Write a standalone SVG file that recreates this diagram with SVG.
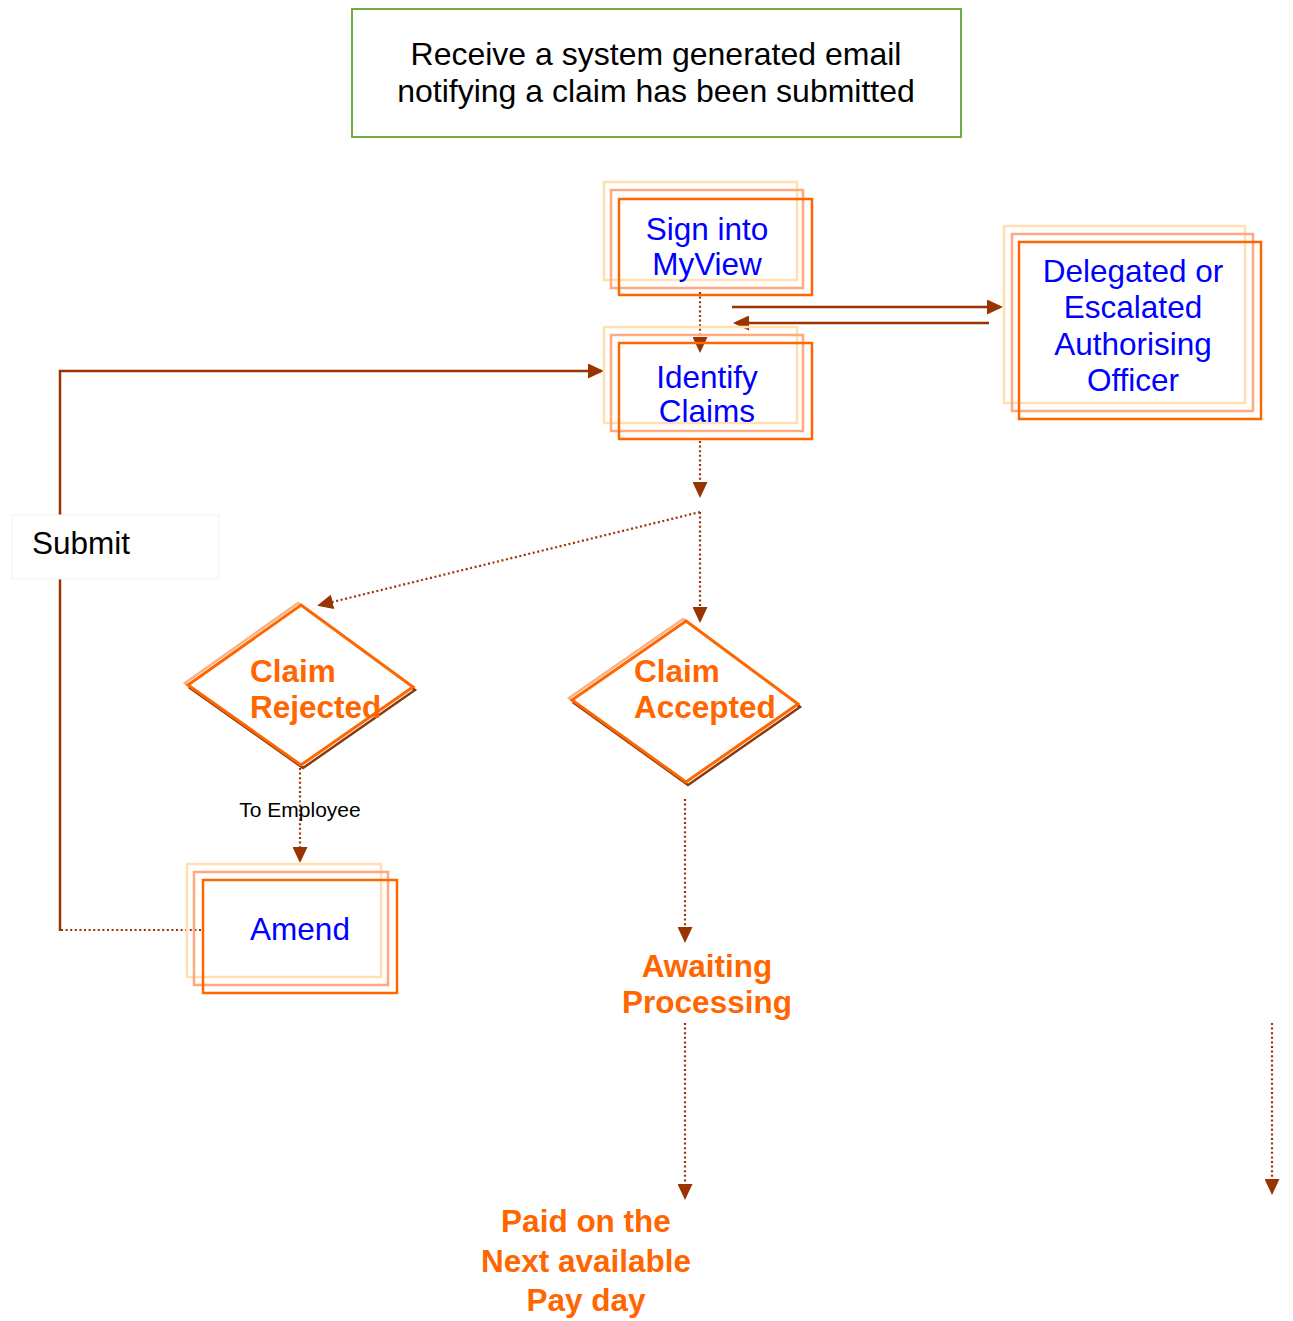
<svg xmlns="http://www.w3.org/2000/svg" width="1293" height="1321" viewBox="0 0 1293 1321">
<style>
.r1{fill:none;stroke:#FFE0B0;stroke-width:2.5}
.r2{fill:none;stroke:#FFA980;stroke-width:2.5}
.r3{fill:none;stroke:#FF6600;stroke-width:2.5}
.blue{font-family:"Liberation Sans",Arial,sans-serif;font-size:31.5px;fill:#0000FF;text-anchor:middle}
.org{font-family:"Liberation Sans",Arial,sans-serif;font-size:31.5px;font-weight:bold;fill:#FF6600}
.blk{font-family:"Liberation Sans",Arial,sans-serif;fill:#000}
.dot{fill:none;stroke:#993300;stroke-width:2.2;stroke-dasharray:2 2.6}
.sol{fill:none;stroke:#993300;stroke-width:2.5}
.dlight{fill:none;stroke:#FFB080;stroke-width:2.5}
.ddark{fill:none;stroke:#8B3A0E;stroke-width:2.5}
.dmain{fill:#fff;stroke:#FF6600;stroke-width:3}
</style>
<defs>
<marker id="ah" viewBox="0 0 16 15" markerWidth="16" markerHeight="15" refX="13" refY="7.5" orient="auto" markerUnits="userSpaceOnUse">
<path d="M0,0 L16,7.5 L0,15 z" fill="#993300"/>
</marker>
</defs>
<rect width="1293" height="1321" fill="#fff"/>

<g id="connectors">
<line class="dot" x1="700" y1="292" x2="700" y2="350" marker-end="url(#ah)"/>
<line class="sol" x1="732" y1="307" x2="1000" y2="307" marker-end="url(#ah)"/>
<line class="sol" x1="989" y1="323" x2="736" y2="323" marker-end="url(#ah)"/>
<line class="dot" x1="700" y1="441" x2="700" y2="495" marker-end="url(#ah)"/>
<line class="dot" x1="700" y1="512" x2="320" y2="605" marker-end="url(#ah)"/>
<line class="dot" x1="700" y1="512" x2="700" y2="620" marker-end="url(#ah)"/>
<polyline class="sol" points="60,515 60,371 601,371" marker-end="url(#ah)"/>
<line class="sol" x1="60" y1="579" x2="60" y2="931"/>
<line class="dot" x1="61" y1="930" x2="204" y2="930"/>
<line class="dot" x1="300" y1="768" x2="300" y2="860" marker-end="url(#ah)"/>
<line class="dot" x1="685" y1="799" x2="685" y2="940" marker-end="url(#ah)"/>
<line class="dot" x1="685" y1="1023" x2="685" y2="1197" marker-end="url(#ah)"/>
<line class="dot" x1="1272" y1="1023" x2="1272" y2="1192" marker-end="url(#ah)"/>
</g>

<g id="email">
<rect x="352" y="9" width="609" height="128" fill="#fff" stroke="#70AD47" stroke-width="2"/>
<text class="blk" x="656" y="65" font-size="32" text-anchor="middle">Receive a system generated email</text>
<text class="blk" x="656" y="102" font-size="32" text-anchor="middle">notifying a claim has been submitted</text>
</g>

<g id="signin">
<rect class="r1" x="604" y="182" width="193" height="98"/>
<rect class="r2" x="611" y="190" width="192" height="98"/>
<rect class="r3" x="619" y="199" width="193" height="96"/>
<text class="blue" x="707" y="240">Sign into</text>
<text class="blue" x="707" y="275">MyView</text>
</g>

<g id="identify">
<rect class="r1" x="604" y="327" width="193" height="96"/>
<rect class="r2" x="611" y="335" width="192" height="96"/>
<rect class="r3" x="619" y="343" width="193" height="96"/>
<text class="blue" x="707" y="388">Identify</text>
<text class="blue" x="707" y="422">Claims</text>
</g>

<g id="delegated">
<rect class="r1" x="1004" y="226" width="241" height="177"/>
<rect class="r2" x="1012" y="234" width="241" height="177"/>
<rect class="r3" x="1019" y="242" width="242" height="177"/>
<text class="blue" x="1133" y="282">Delegated or</text>
<text class="blue" x="1133" y="318">Escalated</text>
<text class="blue" x="1133" y="355">Authorising</text>
<text class="blue" x="1133" y="391">Officer</text>
</g>

<g id="submit">
<rect x="12" y="515" width="207" height="64" fill="#fff" stroke="#F2F2F2" stroke-width="1"/>
<text class="blk" x="32" y="554" font-size="31.5">Submit</text>
</g>

<g id="rejected">
<polygon class="dlight" points="301,605 413,687 301,765 188,685" transform="translate(-3,-2)"/>
<polygon class="ddark" points="301,605 413,687 301,765 188,685" transform="translate(2,3)"/>
<polygon class="dmain" points="301,605 413,687 301,765 188,685"/>
<text class="org" x="250" y="682">Claim</text>
<text class="org" x="250" y="718">Rejected</text>
</g>

<g id="accepted">
<polygon class="dlight" points="686,621 798,704 686,782 572,700" transform="translate(-3,-2)"/>
<polygon class="ddark" points="686,621 798,704 686,782 572,700" transform="translate(2,3)"/>
<polygon class="dmain" points="686,621 798,704 686,782 572,700"/>
<text class="org" x="634" y="682">Claim</text>
<text class="org" x="634" y="718">Accepted</text>
</g>

<g id="toemployee">
<text class="blk" x="300" y="817" font-size="21" text-anchor="middle">To Employee</text>
</g>

<g id="amend">
<rect class="r1" x="187" y="864" width="194" height="113"/>
<rect class="r2" x="194" y="872" width="194" height="113"/>
<rect class="r3" x="203" y="880" width="194" height="113"/>
<text class="blue" x="300" y="940">Amend</text>
</g>

<g id="awaiting">
<text class="org" x="707" y="977" text-anchor="middle">Awaiting</text>
<text class="org" x="707" y="1013" text-anchor="middle">Processing</text>
</g>

<g id="paid">
<text class="org" x="586" y="1232" text-anchor="middle">Paid on the</text>
<text class="org" x="586" y="1272" text-anchor="middle">Next available</text>
<text class="org" x="586" y="1311" text-anchor="middle">Pay day</text>
</g>
</svg>
